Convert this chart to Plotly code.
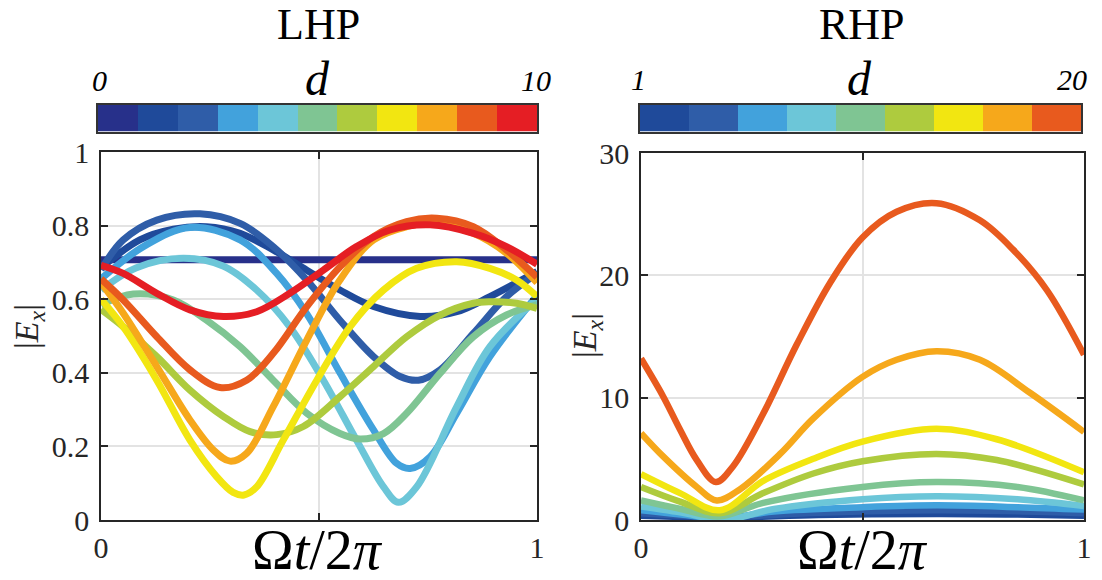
import plotly.graph_objects as go

# ---------------- data ----------------
lhp_colors = ["#27308A", "#1F4A9A", "#2F5DA8", "#42A2DC", "#6CC6D8", "#7FC593",
              "#AECB3E", "#F2E611", "#F6A81B", "#E85A1E", "#E51E24"]
rhp_colors = ["#1F4A9A", "#2F5DA8", "#42A2DC", "#6CC6D8", "#7FC593",
              "#AECB3E", "#F2E611", "#F6A81B", "#E85A1E"]

lhp_d_labels = ["0", "10"]
rhp_d_labels = ["1", "20"]

# LHP curves, d = 0 .. 10  (t = Omega t / 2pi, E = |E_x|)
lhp_t = [
    [0, 0.5, 1],
    [0, 0.089, 0.166, 0.242, 0.319, 0.395, 0.472, 0.548, 0.625, 0.732, 0.816, 0.892, 1.0],
    [0, 0.051, 0.128, 0.227, 0.319, 0.395, 0.472, 0.548, 0.625, 0.686, 0.728, 0.778, 0.854, 0.93, 1.0],
    [0, 0.1, 0.204, 0.319, 0.403, 0.472, 0.548, 0.625, 0.678, 0.709, 0.755, 0.816, 0.892, 1.0],
    [0, 0.08, 0.189, 0.28, 0.357, 0.433, 0.51, 0.586, 0.648, 0.682, 0.724, 0.816, 0.892, 1.0],
    [0, 0.074, 0.166, 0.242, 0.319, 0.395, 0.472, 0.548, 0.594, 0.648, 0.701, 0.778, 0.854, 0.93, 1.0],
    [0, 0.051, 0.128, 0.204, 0.281, 0.342, 0.403, 0.464, 0.548, 0.625, 0.701, 0.778, 0.854, 0.892, 0.953, 1.0],
    [0, 0.051, 0.128, 0.204, 0.265, 0.303, 0.328, 0.357, 0.418, 0.495, 0.571, 0.648, 0.724, 0.816, 0.892, 0.953, 1.0],
    [0, 0.051, 0.128, 0.204, 0.258, 0.296, 0.334, 0.395, 0.472, 0.548, 0.625, 0.701, 0.762, 0.854, 0.93, 1.0],
    [0, 0.051, 0.128, 0.204, 0.273, 0.334, 0.395, 0.472, 0.548, 0.625, 0.701, 0.77, 0.854, 0.93, 1.0],
    [0, 0.051, 0.128, 0.204, 0.281, 0.357, 0.433, 0.51, 0.586, 0.663, 0.755, 0.854, 0.93, 1.0],
]
lhp_E = [
    [0.707, 0.707, 0.707],
    [0.685, 0.761, 0.79, 0.797, 0.779, 0.734, 0.679, 0.625, 0.58, 0.553, 0.566, 0.607, 0.675],
    [0.68, 0.761, 0.815, 0.832, 0.806, 0.743, 0.652, 0.543, 0.444, 0.39, 0.38, 0.408, 0.507, 0.607, 0.67],
    [0.655, 0.745, 0.795, 0.761, 0.67, 0.56, 0.40, 0.245, 0.154, 0.14, 0.172, 0.29, 0.444, 0.61],
    [0.625, 0.685, 0.711, 0.69, 0.625, 0.525, 0.38, 0.217, 0.09, 0.048, 0.09, 0.308, 0.471, 0.6],
    [0.585, 0.614, 0.598, 0.543, 0.471, 0.38, 0.29, 0.235, 0.22, 0.235, 0.29, 0.399, 0.498, 0.557, 0.585],
    [0.572, 0.525, 0.444, 0.353, 0.281, 0.24, 0.232, 0.254, 0.335, 0.417, 0.498, 0.557, 0.589, 0.593, 0.589, 0.575],
    [0.6, 0.525, 0.38, 0.217, 0.118, 0.075, 0.068, 0.09, 0.217, 0.38, 0.525, 0.625, 0.684, 0.702, 0.684, 0.652, 0.607],
    [0.645, 0.562, 0.417, 0.272, 0.19, 0.16, 0.181, 0.308, 0.489, 0.652, 0.761, 0.797, 0.806, 0.779, 0.725, 0.645],
    [0.655, 0.598, 0.498, 0.408, 0.36, 0.38, 0.453, 0.58, 0.688, 0.77, 0.811, 0.82, 0.797, 0.734, 0.66],
    [0.692, 0.67, 0.616, 0.571, 0.553, 0.566, 0.616, 0.679, 0.743, 0.788, 0.802, 0.779, 0.743, 0.695],
]

# RHP curves (9 values of d between 1 and 20)
rhp_t = [
    [0, 0.18, 0.4, 0.667, 0.85, 1],
    [0, 0.18, 0.4, 0.667, 0.85, 1],
    [0, 0.09, 0.185, 0.3, 0.5, 0.667, 0.85, 1],
    [0, 0.1, 0.186, 0.3, 0.5, 0.667, 0.85, 1],
    [0, 0.09, 0.178, 0.276, 0.5, 0.667, 0.85, 1],
    [0, 0.088, 0.178, 0.276, 0.389, 0.5, 0.667, 0.803, 1],
    [0, 0.088, 0.178, 0.276, 0.389, 0.5, 0.667, 0.803, 1],
    [0, 0.05, 0.126, 0.171, 0.223, 0.314, 0.389, 0.5, 0.577, 0.667, 0.765, 0.878, 1],
    [0, 0.05, 0.088, 0.126, 0.169, 0.208, 0.276, 0.351, 0.427, 0.5, 0.577, 0.667, 0.765, 0.84, 0.916, 1],
]
rhp_E = [
    [0.35, 0.2, 0.4, 0.5, 0.45, 0.35],
    [0.55, 0.25, 0.6, 0.8, 0.72, 0.55],
    [0.8, 0.45, 0.15, 0.7, 1.05, 1.2, 1.05, 0.85],
    [1.1, 0.55, 0.0, 0.9, 1.7, 1.95, 1.7, 1.15],
    [1.6, 0.9, 0.3, 1.4, 2.7, 3.1, 2.7, 1.6],
    [2.7, 1.5, 0.55, 2.2, 3.8, 4.8, 5.4, 4.9, 2.9],
    [3.75, 2.2, 0.8, 3.2, 5.0, 6.4, 7.45, 6.6, 3.9],
    [7.1, 5.2, 2.7, 1.6, 2.5, 5.4, 8.3, 11.7, 13.1, 13.8, 13.1, 10.4, 7.2],
    [13.2, 10.1, 7.4, 4.9, 3.1, 4.4, 8.7, 14.3, 19.4, 23.1, 25.2, 25.9, 24.5, 22.1, 18.8, 13.5],
]

lhp_yticks = [0, 0.2, 0.4, 0.6, 0.8, 1]
lhp_yticktext = ["0", "0.2", "0.4", "0.6", "0.8", "1"]
rhp_yticks = [0, 10, 20, 30]
rhp_yticktext = ["0", "10", "20", "30"]
xticks = [0, 1]
xticktext = ["0", "1"]
x_minor = [0.5]

# ---------------- figure ----------------
# page body keeps an 8 px margin, so the figure is laid out 8 px inside the window
OFF = 8
W, H = 1102 - OFF, 580 - OFF
FONT = "Liberation Serif"
INK = "#262626"
GRID = "#E3E3E3"


def px(x):
    return (x - OFF) / W


def py(y):
    return 1 - (y - OFF) / H


fig = go.Figure()

for t, e, c in zip(lhp_t, lhp_E, lhp_colors):
    fig.add_trace(go.Scatter(x=t, y=e, mode="lines", xaxis="x", yaxis="y",
                             line=dict(color=c, width=7, shape="spline", smoothing=1.0),
                             showlegend=False, hoverinfo="skip"))

for t, e, c in zip(rhp_t, rhp_E, rhp_colors):
    fig.add_trace(go.Scatter(x=t, y=e, mode="lines", xaxis="x2", yaxis="y2",
                             line=dict(color=c, width=6.5, shape="spline", smoothing=1.0),
                             showlegend=False, hoverinfo="skip"))


def discrete_scale(colors):
    n = len(colors)
    sc = []
    for i, c in enumerate(colors):
        sc.append([i / n, c])
        sc.append([(i + 1) / n, c])
    return sc


fig.add_trace(go.Heatmap(z=[list(range(len(lhp_colors)))], x=list(range(len(lhp_colors))), y=[0],
                         xaxis="x3", yaxis="y3", colorscale=discrete_scale(lhp_colors),
                         zmin=-0.5, zmax=len(lhp_colors) - 0.5, showscale=False, hoverinfo="skip"))
fig.add_trace(go.Heatmap(z=[list(range(len(rhp_colors)))], x=list(range(len(rhp_colors))), y=[0],
                         xaxis="x4", yaxis="y4", colorscale=discrete_scale(rhp_colors),
                         zmin=-0.5, zmax=len(rhp_colors) - 0.5, showscale=False, hoverinfo="skip"))

tickfont = dict(family=FONT, size=30, color=INK)
common_x = dict(range=[0, 1], tickvals=xticks, ticktext=xticktext, showgrid=True,
                gridcolor=GRID, gridwidth=1.5, showline=True, mirror="ticks",
                linecolor=INK, linewidth=1.6, ticks="inside", ticklen=7, tickwidth=1.5,
                tickcolor=INK, tickfont=tickfont, zeroline=False, ticklabelstandoff=0,
                automargin=False,
                minor=dict(tickmode="array", tickvals=x_minor, ticks="inside", ticklen=7,
                           tickwidth=1.5, tickcolor=INK, showgrid=True, gridcolor=GRID,
                           gridwidth=1.5))
common_y = dict(showgrid=True, gridcolor=GRID, gridwidth=1.5, showline=True,
                mirror="ticks", linecolor=INK, linewidth=1.6, ticks="inside", ticklen=7,
                tickwidth=1.5, tickcolor=INK, tickfont=tickfont, zeroline=False,
                ticklabelstandoff=4, automargin=False)
bar_axis = dict(showticklabels=False, ticks="", showgrid=False, zeroline=False,
                showline=True, mirror=True, linecolor="#333333", linewidth=2,
                automargin=False)

fig.update_layout(
    template="none",
    font=dict(family=FONT, color=INK),
    width=W, height=H, margin=dict(l=0, r=0, t=0, b=0, pad=0),
    paper_bgcolor="white", plot_bgcolor="white",
    xaxis=dict(domain=[px(101), px(537)], anchor="y", **common_x),
    yaxis=dict(domain=[py(520), py(152)], anchor="x", range=[0, 1],
               tickvals=lhp_yticks, ticktext=lhp_yticktext, **common_y),
    xaxis2=dict(domain=[px(641), px(1084)], anchor="y2", **common_x),
    yaxis2=dict(domain=[py(520), py(153)], anchor="x2", range=[0, 30],
                tickvals=rhp_yticks, ticktext=rhp_yticktext, **common_y),
    xaxis3=dict(domain=[px(98), px(537)], anchor="y3", range=[-0.5, len(lhp_colors) - 0.5], **bar_axis),
    yaxis3=dict(domain=[py(131.5), py(104.5)], anchor="x3", range=[-0.5, 0.5], **bar_axis),
    xaxis4=dict(domain=[px(639.5), px(1081)], anchor="y4", range=[-0.5, len(rhp_colors) - 0.5], **bar_axis),
    yaxis4=dict(domain=[py(131.5), py(104.5)], anchor="x4", range=[-0.5, 0.5], **bar_axis),
)

ann = []


def add_text(x, y, text, size, angle=0, color="black"):
    ann.append(dict(x=px(x), y=py(y), xref="paper", yref="paper", text=text,
                    showarrow=False, xanchor="center", yanchor="middle", textangle=angle,
                    font=dict(family=FONT, size=size, color=color)))


add_text(318, 24, "LHP", 44)
add_text(862, 24, "RHP", 44)
# colorbar labels
add_text(99, 81, "<i>" + lhp_d_labels[0] + "</i>", 30)
add_text(317, 78, "<i>d</i>", 48)
add_text(536, 81, "<i>" + lhp_d_labels[1] + "</i>", 30)
add_text(638, 79, "<i>" + rhp_d_labels[0] + "</i>", 30)
add_text(859, 78, "<i>d</i>", 48)
add_text(1072, 79, "<i>" + rhp_d_labels[1] + "</i>", 30)
# axis titles
add_text(29, 327, "|<i>E</i><sub><i>x</i></sub>|", 34, angle=-90, color=INK)
add_text(587, 336, "|<i>E</i><sub><i>x</i></sub>|", 34, angle=-90, color=INK)
add_text(317, 550, "Ω<i>t</i>/2<i>π</i>", 56)
add_text(862, 550, "Ω<i>t</i>/2<i>π</i>", 56)

fig.update_layout(annotations=ann)

fig.write_html("out.html")
